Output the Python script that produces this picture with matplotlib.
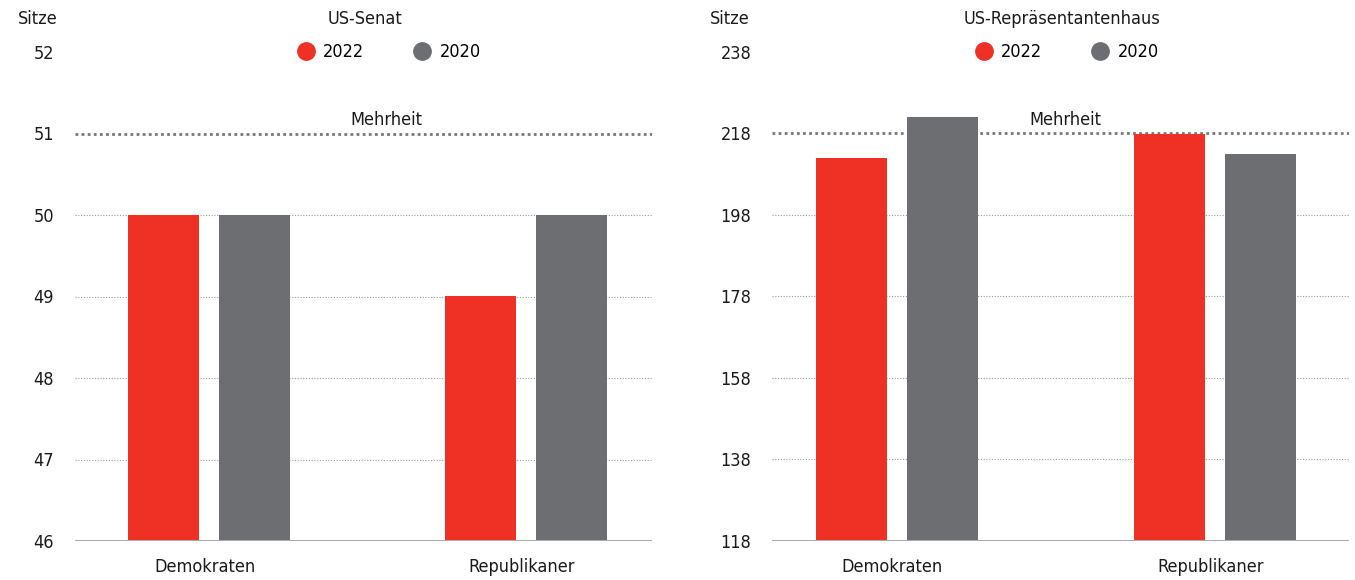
import numpy as np
import matplotlib.pyplot as plt
from matplotlib.lines import Line2D

plt.rcParams['font.family'] = ['DejaVu Sans']
plt.rcParams['font.stretch'] = 'condensed'
plt.rcParams['font.size'] = 13

# data
parties = ['Demokraten', 'Republikaner']
years = ['2022', '2020']
senate_2022 = [50, 49]
senate_2020 = [50, 50]
house_2022 = [212, 218]
house_2020 = [222, 213]
senate_ticks = [46, 47, 48, 49, 50, 51, 52]
house_ticks = [118, 138, 158, 178, 198, 218, 238]
senate_majority = 51
house_majority = 218

RED = '#ee3124'
GREY = '#6d6e71'

fig = plt.figure(figsize=(13.55, 5.8), dpi=100)


def draw_panel(rect, v22, v20, ticks, majority, title, xlim, title_x, leg_x, sitze_x, mehr_x):
    ax = fig.add_axes(rect)
    x = np.arange(len(parties))
    w = 0.224
    off = 0.1435
    ax.bar(x - off, np.array(v22) - ticks[0], w, bottom=ticks[0], color=RED, zorder=3)
    ax.bar(x + off, np.array(v20) - ticks[0], w, bottom=ticks[0], color=GREY, zorder=3)
    ax.set_xlim(*xlim)
    ax.set_ylim(ticks[0], ticks[-1])
    ax.set_yticks(ticks)
    ax.set_xticks(x - 0.015)
    ax.set_xticklabels(parties)
    for t in ticks[1:-1]:
        if t == majority:
            continue
        ax.axhline(t, color='#999999', lw=0.8, ls=(0, (1, 1.5)), zorder=1)
    ax.axhline(majority, color='#777777', lw=2, ls=(0, (1, 1.2)), zorder=2)
    ax.axhline(ticks[0], color='#aaaaaa', lw=2.2, zorder=4)
    ax.text(mehr_x, majority + (ticks[1] - ticks[0]) * 0.06, 'Mehrheit', ha='center', va='bottom', color='#1a1a1a')
    for s in ax.spines.values():
        s.set_visible(False)
    ax.tick_params(axis='y', length=0, pad=15, colors='#1a1a1a')
    ax.tick_params(axis='x', length=0, pad=12, colors='#1a1a1a')
    fig.text(title_x, 1 - 19 / 580, title, ha='center', va='center', color='#1a1a1a')
    fig.text(sitze_x, 1 - 19 / 580, 'Sitze', ha='right', va='center', color='#1a1a1a')
    handles = [Line2D([], [], marker='o', ls='', color=RED, markersize=12.5),
               Line2D([], [], marker='o', ls='', color=GREY, markersize=12.5)]
    fig.legend(handles, years, loc='center', bbox_to_anchor=(leg_x, 1 - 52 / 580), ncol=2,
               frameon=False, handletextpad=0.35, columnspacing=2.6, handlelength=1.2)
    return ax


draw_panel([75 / 1355, 39 / 580, 577 / 1355, 489 / 580], senate_2022, senate_2020, senate_ticks,
           senate_majority, 'US-Senat', (-0.424, 1.396), 365 / 1355, 388 / 1355, 58 / 1355, 0.557)
draw_panel([772 / 1355, 39 / 580, 577 / 1355, 489 / 580], house_2022, house_2020, house_ticks,
           house_majority, 'US-Repräsentantenhaus', (-0.393, 1.421), 1062 / 1355, 1066 / 1355, 750 / 1355, 0.528)

fig.savefig('out.png', dpi=100)
